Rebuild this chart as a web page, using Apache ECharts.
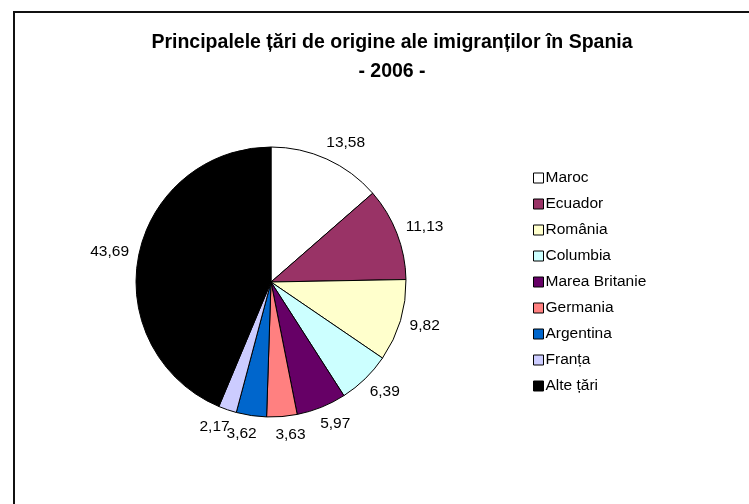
<!DOCTYPE html>
<html>
<head>
<meta charset="utf-8">
<script src="https://cdn.jsdelivr.net/npm/echarts@6/dist/echarts.min.js"></script>
<style>
  html, body { margin: 0; padding: 0; background: #fff; }
  #chart { width: 749px; height: 504px; }
  #frame {
    position: absolute; left: 13px; top: 11px;
    width: 800px; height: 600px;
    border: 2px solid #111; pointer-events: none;
  }
</style>
</head>
<body>
<div id="chart"></div>
<div id="frame"></div>
<script>
  // tari de origine, procente 2006
  const countries = ['Maroc', 'Ecuador', 'România', 'Columbia', 'Marea Britanie', 'Germania', 'Argentina', 'Franța', 'Alte țări']
  const shares = [13.58, 11.13, 9.82, 6.39, 5.97, 3.63, 3.62, 2.17, 43.69]
  const colors = ['#FFFFFF', '#993366', '#FFFFCC', '#CCFFFF', '#660066', '#FF8080', '#0066CC', '#CCCCFF', '#000000']

  const font = 'Arial, "Liberation Sans", sans-serif'
  const pieData = countries.map((name, i) => ({ name: name, value: shares[i] }))

  let mychart = echarts.init(document.getElementById('chart'))
  mychart.setOption({
    animation: false,
    color: colors,
    title: {
      text: 'Principalele țări de origine ale imigranților în Spania\n- 2006 -',
      left: 387,
      top: 23,
      textAlign: 'center',
      textStyle: {
        fontFamily: font,
        fontSize: 19.5,
        fontWeight: 'bold',
        color: '#000',
        lineHeight: 29
      }
    },
    legend: {
      orient: 'vertical',
      left: 528,
      top: 165,
      icon: 'rect',
      itemWidth: 10,
      itemHeight: 10,
      itemGap: 10,
      data: countries,
      itemStyle: { borderColor: '#000', borderWidth: 1 },
      textStyle: { fontFamily: font, fontSize: 15.5, color: '#000', lineHeight: 16, padding: [0, 0, 0, -3] }
    },
    series: [
      {
        type: 'pie',
        center: [271, 282],
        radius: 135,
        startAngle: 90,
        clockwise: true,
        silent: true,
        avoidLabelOverlap: false,
        data: pieData,
        itemStyle: { borderColor: '#000', borderWidth: 1 },
        label: {
          show: true,
          position: 'outside',
          distanceToLabelLine: -8,
          color: '#000',
          fontFamily: font,
          fontSize: 15.5,
          formatter: p => p.value.toFixed(2).replace('.', ',')
        },
        labelLayout: { hideOverlap: false },
        labelLine: { show: false, length: 18, length2: 0 }
      }
    ]
  })
</script>
</body>
</html>
